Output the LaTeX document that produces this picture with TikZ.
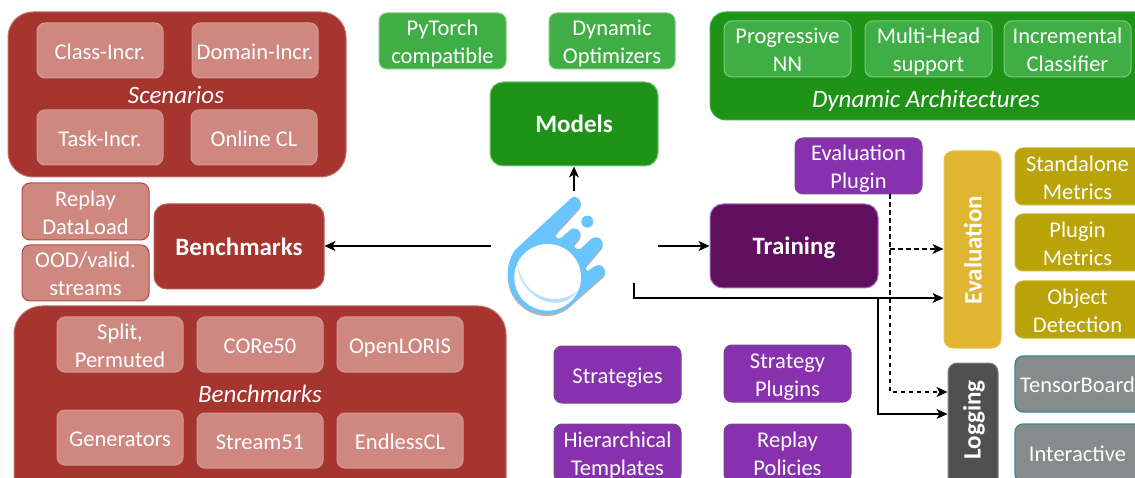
\documentclass[tikz,border=0pt]{standalone}
\usepackage{fontspec}
\setmainfont{Carlito}
\usetikzlibrary{arrows.meta,calc}
\definecolor{cred}{HTML}{A5352E}
\definecolor{cpink}{HTML}{CF8880}
\definecolor{cgreen}{HTML}{1E9318}
\definecolor{cgreenl}{HTML}{3FAE45}
\definecolor{cgreenb}{HTML}{7CC97F}
\definecolor{cpurple}{HTML}{8831AE}
\definecolor{cdpurple}{HTML}{5F0F5E}
\definecolor{cyellow}{HTML}{E0B531}
\definecolor{colive}{HTML}{B9A307}
\definecolor{cgrey}{HTML}{868C8B}
\definecolor{cteal}{HTML}{2E8A90}
\definecolor{cdark}{HTML}{505050}
\definecolor{clogo}{HTML}{6AC4FF}
\definecolor{clogol}{HTML}{B5E1FF}
\tikzset{
  base/.style={rectangle,align=center,inner sep=0pt,text=white,font=\fontsize{22.5}{28}\selectfont,line width=1pt},
  small/.style={base,rounded corners=8pt},
  pink/.style={small,fill=cpink,draw=cred!75!cpink},
  pinkin/.style={small,fill=cpink,draw=cpink!85!white},
  greenbox/.style={small,fill=cgreenl,draw=cgreenb},
  purplebox/.style={small,fill=cpurple,draw=cpurple!60!black!80!white},
  olivebox/.style={small,fill=colive,draw=colive!80!white},
  greybox/.style={small,fill=cgrey,draw=cteal,line width=1.2pt},
  big/.style={base,rounded corners=13pt,font=\fontsize{25}{28}\selectfont\bfseries},
  panel/.style={base,rounded corners=25pt},
  lab/.style={inner sep=0pt,text=white,font=\fontsize{25}{28}\selectfont\itshape},
  rot/.style={inner sep=0pt,text=white,font=\fontsize{25}{28}\selectfont\bfseries,rotate=90},
  conn/.style={draw=black,line width=1.2pt,-{Stealth[length=11pt,width=10pt,inset=3pt]}},
  dashconn/.style={conn,dash pattern=on 4.5pt off 3.5pt},
}
\newcommand\bx[7]{\node[#6,minimum width={(#4-#2)*1pt},minimum height={(#5-#3)*1pt}] (#1) at ({(#2+#4)/2},{(#3+#5)/2}) {};
\node[#6,draw=none,fill=none,yshift=-3pt] (#1t) at (#1) {\strut #7\strut};}
\begin{document}
\begin{tikzpicture}[x=1pt,y=-1pt]
\path[use as bounding box,clip] (0,0) rectangle (1135,478);
\fill[white] (0,0) rectangle (1135,478);
% Scenarios
\bx{scen}{8}{12}{346}{177}{panel,fill=cred,draw=cred!70!white}{}
\bx{cinc}{37}{23}{163}{78}{pinkin}{Class-Incr.}
\bx{dinc}{192}{23}{318}{78}{pinkin}{Domain-Incr.}
\bx{tinc}{37}{110}{163}{165}{pinkin}{Task-Incr.}
\bx{ocl}{191}{110}{317}{165}{pinkin}{Online CL}
\node[lab] (scenl) at (176,95) {Scenarios};
% top green
\bx{pyt}{379}{13}{506}{69}{greenbox}{PyTorch\\compatible}
\bx{dopt}{549}{13}{675}{69}{greenbox}{Dynamic\\Optimizers}
\bx{darch}{710}{12}{1160}{120}{base,rounded corners=16pt,fill=cgreen,draw=cgreenl}{}
\bx{prog}{724}{21}{851}{77}{greenbox}{Progressive\\NN}
\bx{mhead}{865}{21}{992}{77}{greenbox}{Multi-Head\\support}
\bx{incc}{1004}{21}{1131}{77}{greenbox}{Incremental\\Classifier}
\node[lab] (darchl) at (926,101) {Dynamic Architectures};
% central
\bx{models}{490}{82}{658}{166}{big,fill=cgreen,draw=cgreenb}{Models}
\bx{train}{710}{204}{878}{288}{big,fill=cdpurple,draw=cpurple!70!white}{Training}
\bx{bench}{154}{204}{324}{289}{big,fill=cred,draw=cred!80!white}{Benchmarks}
\bx{evp}{795}{138}{922}{194}{purplebox}{Evaluation\\Plugin}
% benchmarks side
\bx{repl}{22}{183}{149}{240}{pink}{Replay\\DataLoad}
\bx{ood}{22}{245}{149}{301}{pink}{OOD/valid.\\streams}
% benchmarks panel
\bx{bpan}{14}{306}{506}{510}{panel,rounded corners=28pt,fill=cred,draw=cred!70!white}{}
\bx{split}{57}{317}{183}{372}{pinkin}{Split,\\Permuted}
\bx{core}{197}{317}{323}{372}{pinkin}{CORe50}
\bx{olor}{337}{317}{463}{372}{pinkin}{OpenLORIS}
\bx{gen}{57}{410}{183}{465}{pinkin}{Generators}
\bx{str}{197}{413}{323}{468}{pinkin}{Stream51}
\bx{endl}{337}{413}{463}{468}{pinkin}{EndlessCL}
\node[lab] (benchl) at (260,394) {Benchmarks};
% strategies
\bx{strat}{554}{346}{681}{403}{purplebox}{Strategies}
\bx{splug}{724}{345}{851}{402}{purplebox}{Strategy\\Plugins}
\bx{hier}{554}{424}{681}{482}{purplebox}{Hierarchical\\Templates}
\bx{rpol}{724}{424}{851}{482}{purplebox}{Replay\\Policies}
% evaluation
\bx{eval}{944}{151}{1001}{348}{base,rounded corners=9pt,fill=cyellow,draw=cyellow!80!white}{}
\node[rot] (evall) at (973,250) {Evaluation};
\bx{stand}{1015}{148}{1145}{205}{olivebox}{\hspace*{-5pt}Standalone\\\hspace*{-5pt}Metrics}
\bx{plm}{1015}{214}{1145}{271}{olivebox}{\hspace*{-5pt}Plugin\\\hspace*{-5pt}Metrics}
\bx{objd}{1015}{281}{1145}{338}{olivebox}{\hspace*{-5pt}Object\\\hspace*{-5pt}Detection}
\bx{logb}{948}{363}{998}{490}{base,rounded corners=9pt,fill=cdark,draw=cdark!70!white}{}
\node[rot] (logl) at (974,420) {Logging};
\bx{tens}{1015}{356}{1145}{412}{greybox}{\hspace*{-5pt}TensorBoard}
\bx{inter}{1015}{424}{1145}{482}{greybox}{\hspace*{-5pt}Interactive}
% logo
\begin{scope}[shift={(480,160)},x=0.3333pt,y=-0.3333pt]
 \def\cometbody{(273,115) -- (105,270) .. controls (70,320) and (80,390) .. (115,425) .. controls (160,470) and (225,475) .. (270,435) -- (372,345) .. controls (385,325) and (360,305) .. (340,322) -- (323,333) .. controls (313,330) and (315,320) .. (320,315) -- (365,262) .. controls (378,240) and (350,222) .. (332,238) -- (300,268) .. controls (285,270) and (278,255) .. (285,250) -- (300,232) .. controls (308,212) and (285,195) .. (268,212) -- (243,234) .. controls (228,240) and (220,225) .. (232,215) -- (298,143) .. controls (312,125) and (290,100) .. (273,115) -- cycle}
 \fill[black!30,yshift=-2pt] \cometbody;
 \fill[clogo] \cometbody;
 \fill[clogo] (322,185) circle[radius=18];
 \fill[white] (203,352) circle[radius=100];
 \fill[clogol] (112,302) .. controls (108,410) and (240,472) .. (292,393) .. controls (240,438) and (125,425) .. (112,302) -- cycle;
\end{scope}
% connectors
\coordinate (lgt) at (574,191);
\coordinate (lgl) at (491,246);
\coordinate (lgr) at (658,246);
\coordinate (lgb) at (634,283);
\coordinate (eb1) at (634,298);
\coordinate (jn) at (878,298);
\coordinate (jnb) at (878,414);
\coordinate (jd) at (890,249);
\coordinate (jdb) at (890,392);
\draw[conn] (lgt) -- (lgt |- models.south);
\draw[conn] (lgl) -- (lgl -| bench.east);
\draw[conn] (lgr) -- (lgr -| train.west);
\draw[line width=1.9pt] (680,246) -- (685,246);
\draw[conn] (lgb) -- (eb1) -- (eb1 -| eval.west);
\draw[conn] (jn) -- (jnb) -- (jnb -| logb.west);
\draw[dashconn] (evp.south -| jd) -- (jdb) -- (jdb -| logb.west);
\draw[dashconn] (jd) -- (jd -| eval.west);
\end{tikzpicture}
\end{document}
